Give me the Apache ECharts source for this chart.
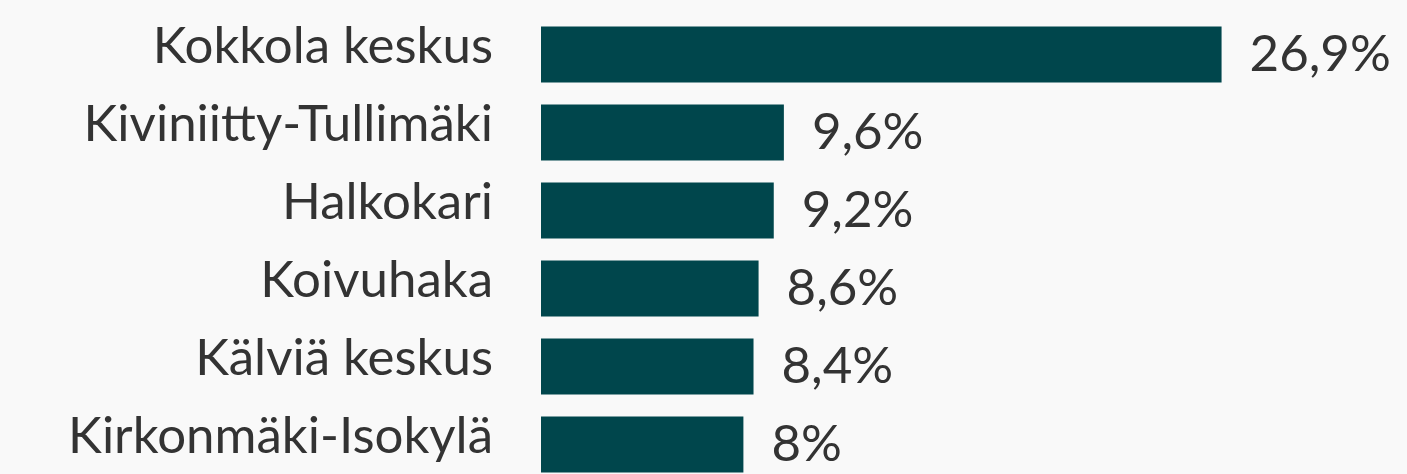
<!DOCTYPE html>
<html lang="fi">
<head>
    <meta charset="UTF-8">
    <title>Kokkola</title>
    <script src="https://cdn.jsdelivr.net/npm/echarts@6/dist/echarts.min.js"></script>
    <style>
        html, body { margin: 0; padding: 0; background: #f9f9f9; }
        #chart { width: 1407px; height: 474px; }
    </style>
</head>
<body>
    <div id="chart"></div>
    <script>
        // alueet ja osuudet (%)
        var categories = ['Kokkola keskus', 'Kiviniitty-Tullimäki', 'Halkokari', 'Koivuhaka', 'Kälviä keskus', 'Kirkonmäki-Isokylä'];
        var values = [26.9, 9.6, 9.2, 8.6, 8.4, 8];

        var myChart = echarts.init(document.getElementById('chart'));

        var option = {
            backgroundColor: '#f9f9f9',
            animation: false,
            grid: {
                left: 541,
                width: 759,
                top: 15.5,
                height: 468,
                outerBoundsMode: 'none'
            },
            xAxis: {
                type: 'value',
                min: 0,
                max: 30,
                show: false
            },
            yAxis: {
                type: 'category',
                data: categories,
                inverse: true,
                axisLine: { show: false },
                axisTick: { show: false },
                axisLabel: {
                    margin: 48,
                    color: '#333333',
                    fontSize: 51,
                    fontFamily: 'Lato',
                    // tyhjä rivi alle nostaa tekstiä hieman ylöspäin
                    formatter: function (v) {
                        return '{t|' + v + '}\n{s| }';
                    },
                    rich: {
                        t: { fontSize: 51, fontFamily: 'Lato', color: '#333333', lineHeight: 60 },
                        s: { fontSize: 10, lineHeight: 16 }
                    }
                }
            },
            series: [
                {
                    type: 'bar',
                    data: values,
                    barWidth: 56,
                    itemStyle: { color: '#00464c' },
                    label: {
                        show: true,
                        position: 'right',
                        distance: 28,
                        color: '#333333',
                        fontSize: 51,
                        fontFamily: 'Lato',
                        padding: [6, 0, 0, 0],
                        formatter: function (p) {
                            return String(p.value).replace('.', ',') + '%';
                        }
                    }
                }
            ]
        };

        myChart.setOption(option);
    </script>
</body>
</html>
